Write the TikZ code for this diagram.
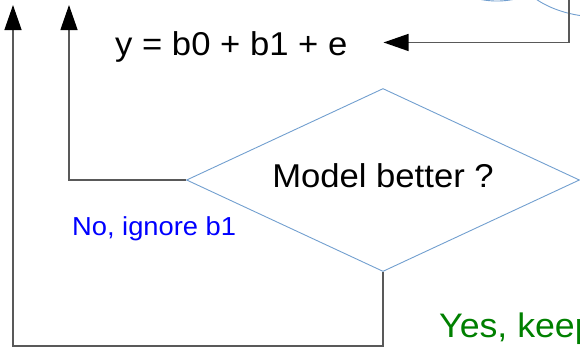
\documentclass[tikz,border=0pt]{standalone}
\usepackage{fontspec}
\setmainfont[FakeStretch=1.05]{Liberation Sans}
\usetikzlibrary{shapes.geometric, arrows.meta}
\definecolor{shapeblue}{RGB}{114,159,207}
\definecolor{nogreen}{RGB}{0,0,255}
\definecolor{yesgreen}{RGB}{0,128,0}

\begin{document}
\begin{tikzpicture}[x=1pt, y=-1pt, >={Triangle[length=25pt, width=17pt, color=black]},
    flow/.style={draw=black!65, line width=1.3pt},
    decision/.style={diamond, draw=shapeblue, line width=0.9pt, inner sep=0pt,
        aspect=2.15, minimum width=393pt, minimum height=183pt, text depth=8pt,
        font=\fontsize{33}{40}\selectfont}]
    % 1. Khung hình
    \useasboundingbox (0,0) rectangle (580,349);
    \clip (0,0) rectangle (580,349);

    % 2. Các hình bị cắt ở phía trên
    \draw[shapeblue, line width=0.9pt] (497,-40) ellipse [x radius=60, y radius=41];
    \draw[shapeblue, line width=0.9pt] (600,-40) ellipse [x radius=88, y radius=57];

    % 3. Các nút
    \node[inner sep=0pt, anchor=base west, font=\fontsize{33}{40}\selectfont]
        (model) at (115,55) {y = b0 + b1 + e};
    \node[decision] (better) at (383,180) {Model better ?};
    \node[inner sep=0pt, anchor=base west, text=nogreen, font=\fontsize{26}{31}\selectfont]
        (nolabel) at (72,235) {No, ignore b1};
    \node[inner sep=0pt, anchor=base west, text=yesgreen, font=\fontsize{34}{41}\selectfont]
        (yeslabel) at (439,337) {Yes, keep};

    % 4. Đầu tự do của các mũi tên
    \coordinate (upA) at (69,5);
    \coordinate (upB) at (13,5);
    \coordinate (topin) at (569,0);

    % 5. Các mũi tên
    \draw[flow, ->] (topin) |- ([xshift=36pt, yshift=4pt]model.east);
    \draw[flow, ->] (better.west) -| (upA);
    \draw[flow, ->] (better.south) -- ++(0,74) -| (upB);
\end{tikzpicture}
\end{document}
